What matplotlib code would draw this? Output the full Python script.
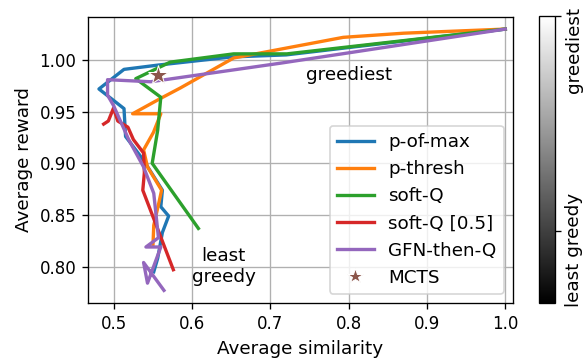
import numpy as np
import matplotlib
matplotlib.use('Agg')
import matplotlib.pyplot as plt
from matplotlib.colors import Normalize
from matplotlib.cm import ScalarMappable

# series, ordered from least greedy to greediest
pofmax_x = [0.551, 0.556, 0.562, 0.570, 0.560, 0.562, 0.538, 0.515, 0.513, 0.481, 0.513, 0.555, 0.650, 0.720, 1.000]
pofmax_y = [0.795, 0.808, 0.833, 0.849, 0.858, 0.874, 0.903, 0.926, 0.953, 0.972, 0.991, 0.995, 1.003, 1.005, 1.030]

pthresh_x = [0.550, 0.551, 0.557, 0.561, 0.543, 0.538, 0.5506, 0.560, 0.524, 0.560, 0.585, 0.653, 0.793, 0.870, 1.000]
pthresh_y = [0.821, 0.840, 0.860, 0.874, 0.8965, 0.913, 0.930, 0.948, 0.948, 0.963, 0.973, 1.002, 1.022, 1.026, 1.030]

softq_x = [0.608, 0.549, 0.556, 0.560, 0.528, 0.572, 0.653, 0.721, 1.000]
softq_y = [0.837, 0.900, 0.932, 0.964, 0.982, 0.998, 1.006, 1.006, 1.030]

softq05_x = [0.576, 0.537, 0.539, 0.538, 0.525, 0.518, 0.505, 0.4996, 0.493, 0.487]
softq05_y = [0.797, 0.874, 0.891, 0.910, 0.923, 0.935, 0.941, 0.9535, 0.941, 0.938]

gfnq_x = [0.564, 0.538, 0.543, 0.560, 0.541, 0.557, 0.551, 0.538, 0.519, 0.4996, 0.492, 0.492, 0.547, 0.713, 1.000]
gfnq_y = [0.777, 0.804, 0.784, 0.819, 0.819, 0.828, 0.871, 0.8965, 0.923, 0.956, 0.966, 0.981, 0.979, 0.997, 1.030]

mcts_x = [0.556]
mcts_y = [0.986]

series_names = ['p-of-max', 'p-thresh', 'soft-Q', 'soft-Q [0.5]', 'GFN-then-Q']
cbar_labels = ['least greedy', 'greediest']
cbar_ticks = [0.25, 1.0]

fig = plt.figure(figsize=(587 / 120, 358 / 120), dpi=120)
ax = fig.add_axes([0.1499, 0.1528, 0.724, 0.8006])

all_x = [pofmax_x, pthresh_x, softq_x, softq05_x, gfnq_x]
all_y = [pofmax_y, pthresh_y, softq_y, softq05_y, gfnq_y]
for i, (xs, ys) in enumerate(zip(all_x, all_y)):
    ax.plot(xs, ys, color='C%d' % i, lw=2, label=series_names[i])
ax.plot(mcts_x, mcts_y, ls='none', marker='*', ms=12, color='C5',
        mec='white', mew=0.6, label='MCTS')

ax.text(0.80, 0.9855, 'greediest', ha='center', va='center', fontsize=11)
ax.text(0.64, 0.8005, 'least\ngreedy', ha='center', va='center', fontsize=11)

ax.set_xlim(0.467, 1.0098)
ax.set_ylim(0.7645, 1.042)
ax.set_xticks([0.5, 0.6, 0.7, 0.8, 0.9, 1.0])
ax.set_yticks([0.80, 0.85, 0.90, 0.95, 1.00])
ax.grid(True)
ax.set_xlabel('Average similarity', fontsize=11)
ax.set_ylabel('Average reward', fontsize=11)
ax.legend(loc='lower right', fontsize=11, markerscale=0.8)

# greediness colour bar
cax = fig.add_axes([539 / 587, 1 - 303 / 358, 16 / 587, 287 / 358])
cbar = fig.colorbar(ScalarMappable(norm=Normalize(0, 1), cmap='gray'), cax=cax)
cbar.set_ticks(cbar_ticks)
cbar.set_ticklabels(['', ''])
cax.text(2.2, -0.014, cbar_labels[0], rotation=90, ha='center', va='bottom',
         transform=cax.transAxes, fontsize=11)
cax.text(2.2, 0.732, cbar_labels[1], rotation=90, ha='center', va='bottom',
         transform=cax.transAxes, fontsize=11)

fig.savefig('out.png', dpi=120)
